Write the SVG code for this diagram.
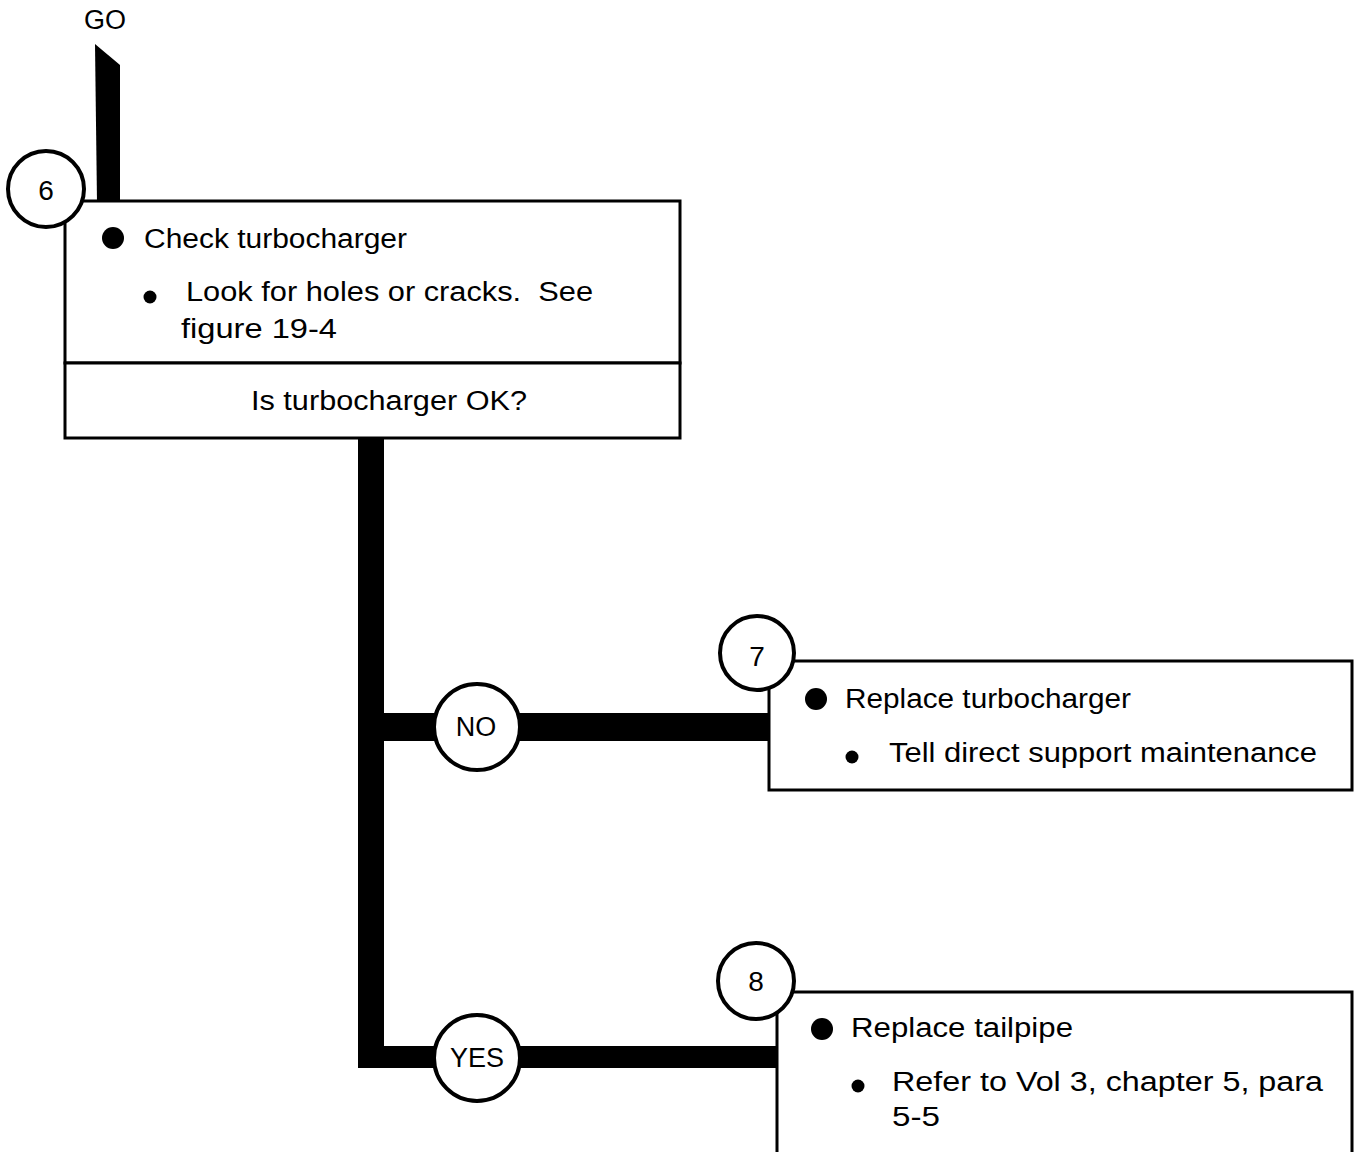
<svg xmlns="http://www.w3.org/2000/svg" width="1361" height="1152" viewBox="0 0 1361 1152">
<style>
.box{fill:#fff;stroke:#000;stroke-width:3}
.circ{fill:#fff;stroke:#000;stroke-width:4}
.t{font-family:"Liberation Sans",Arial,sans-serif;font-size:27px;fill:#000}
.c{text-anchor:middle}
.n{font-size:28px}
.bar{fill:#000}
</style>
<rect width="1361" height="1152" fill="#fff"/>
<g id="connectors">
  <polygon class="bar" points="95,44 120,65 120,203 97,203"/>
  <rect class="bar" x="358" y="437" width="26" height="631"/>
  <rect class="bar" x="358" y="713" width="412" height="28"/>
  <rect class="bar" x="358" y="1046" width="420" height="22"/>
</g>
<g id="go">
  <text class="t c" x="105" y="29" font-size="26">GO</text>
</g>
<g id="node6">
  <rect class="box" x="65" y="201" width="615" height="162"/>
  <rect class="box" x="65" y="363" width="615" height="75"/>
  <circle class="circ" cx="46" cy="189" r="38"/>
  <text class="t c n" x="46" y="200">6</text>
  <circle cx="113" cy="238" r="11"/>
  <text class="t" x="144" y="248" textLength="263" lengthAdjust="spacingAndGlyphs">Check turbocharger</text>
  <circle cx="150" cy="297" r="6.5"/>
  <text class="t" x="186" y="301" textLength="407" lengthAdjust="spacingAndGlyphs" xml:space="preserve">Look for holes or cracks.  See</text>
  <text class="t" x="181" y="338" textLength="156" lengthAdjust="spacingAndGlyphs">figure 19-4</text>
  <text class="t" x="251" y="410" textLength="276" lengthAdjust="spacingAndGlyphs">Is turbocharger OK?</text>
</g>
<g id="no">
  <circle class="circ" cx="477" cy="727" r="43"/>
  <text class="t c" x="476" y="736">NO</text>
</g>
<g id="yes">
  <circle class="circ" cx="477" cy="1058" r="43"/>
  <text class="t c" x="477" y="1067">YES</text>
</g>
<g id="node7">
  <rect class="box" x="769" y="661" width="583" height="129"/>
  <circle class="circ" cx="757" cy="653" r="37"/>
  <text class="t c n" x="757" y="666">7</text>
  <circle cx="816" cy="699" r="11"/>
  <text class="t" x="845" y="708" textLength="286" lengthAdjust="spacingAndGlyphs">Replace turbocharger</text>
  <circle cx="852" cy="757" r="6.5"/>
  <text class="t" x="889" y="762" textLength="428" lengthAdjust="spacingAndGlyphs">Tell direct support maintenance</text>
</g>
<g id="node8">
  <rect class="box" x="777" y="992" width="575" height="180"/>
  <circle class="circ" cx="756" cy="981" r="38"/>
  <text class="t c n" x="756" y="991">8</text>
  <circle cx="822" cy="1029" r="11"/>
  <text class="t" x="851" y="1037" textLength="222" lengthAdjust="spacingAndGlyphs">Replace tailpipe</text>
  <circle cx="858" cy="1086" r="6.5"/>
  <text class="t" x="892" y="1091" textLength="431" lengthAdjust="spacingAndGlyphs">Refer to Vol 3, chapter 5, para</text>
  <text class="t" x="892" y="1126" textLength="48" lengthAdjust="spacingAndGlyphs">5-5</text>
</g>
</svg>
